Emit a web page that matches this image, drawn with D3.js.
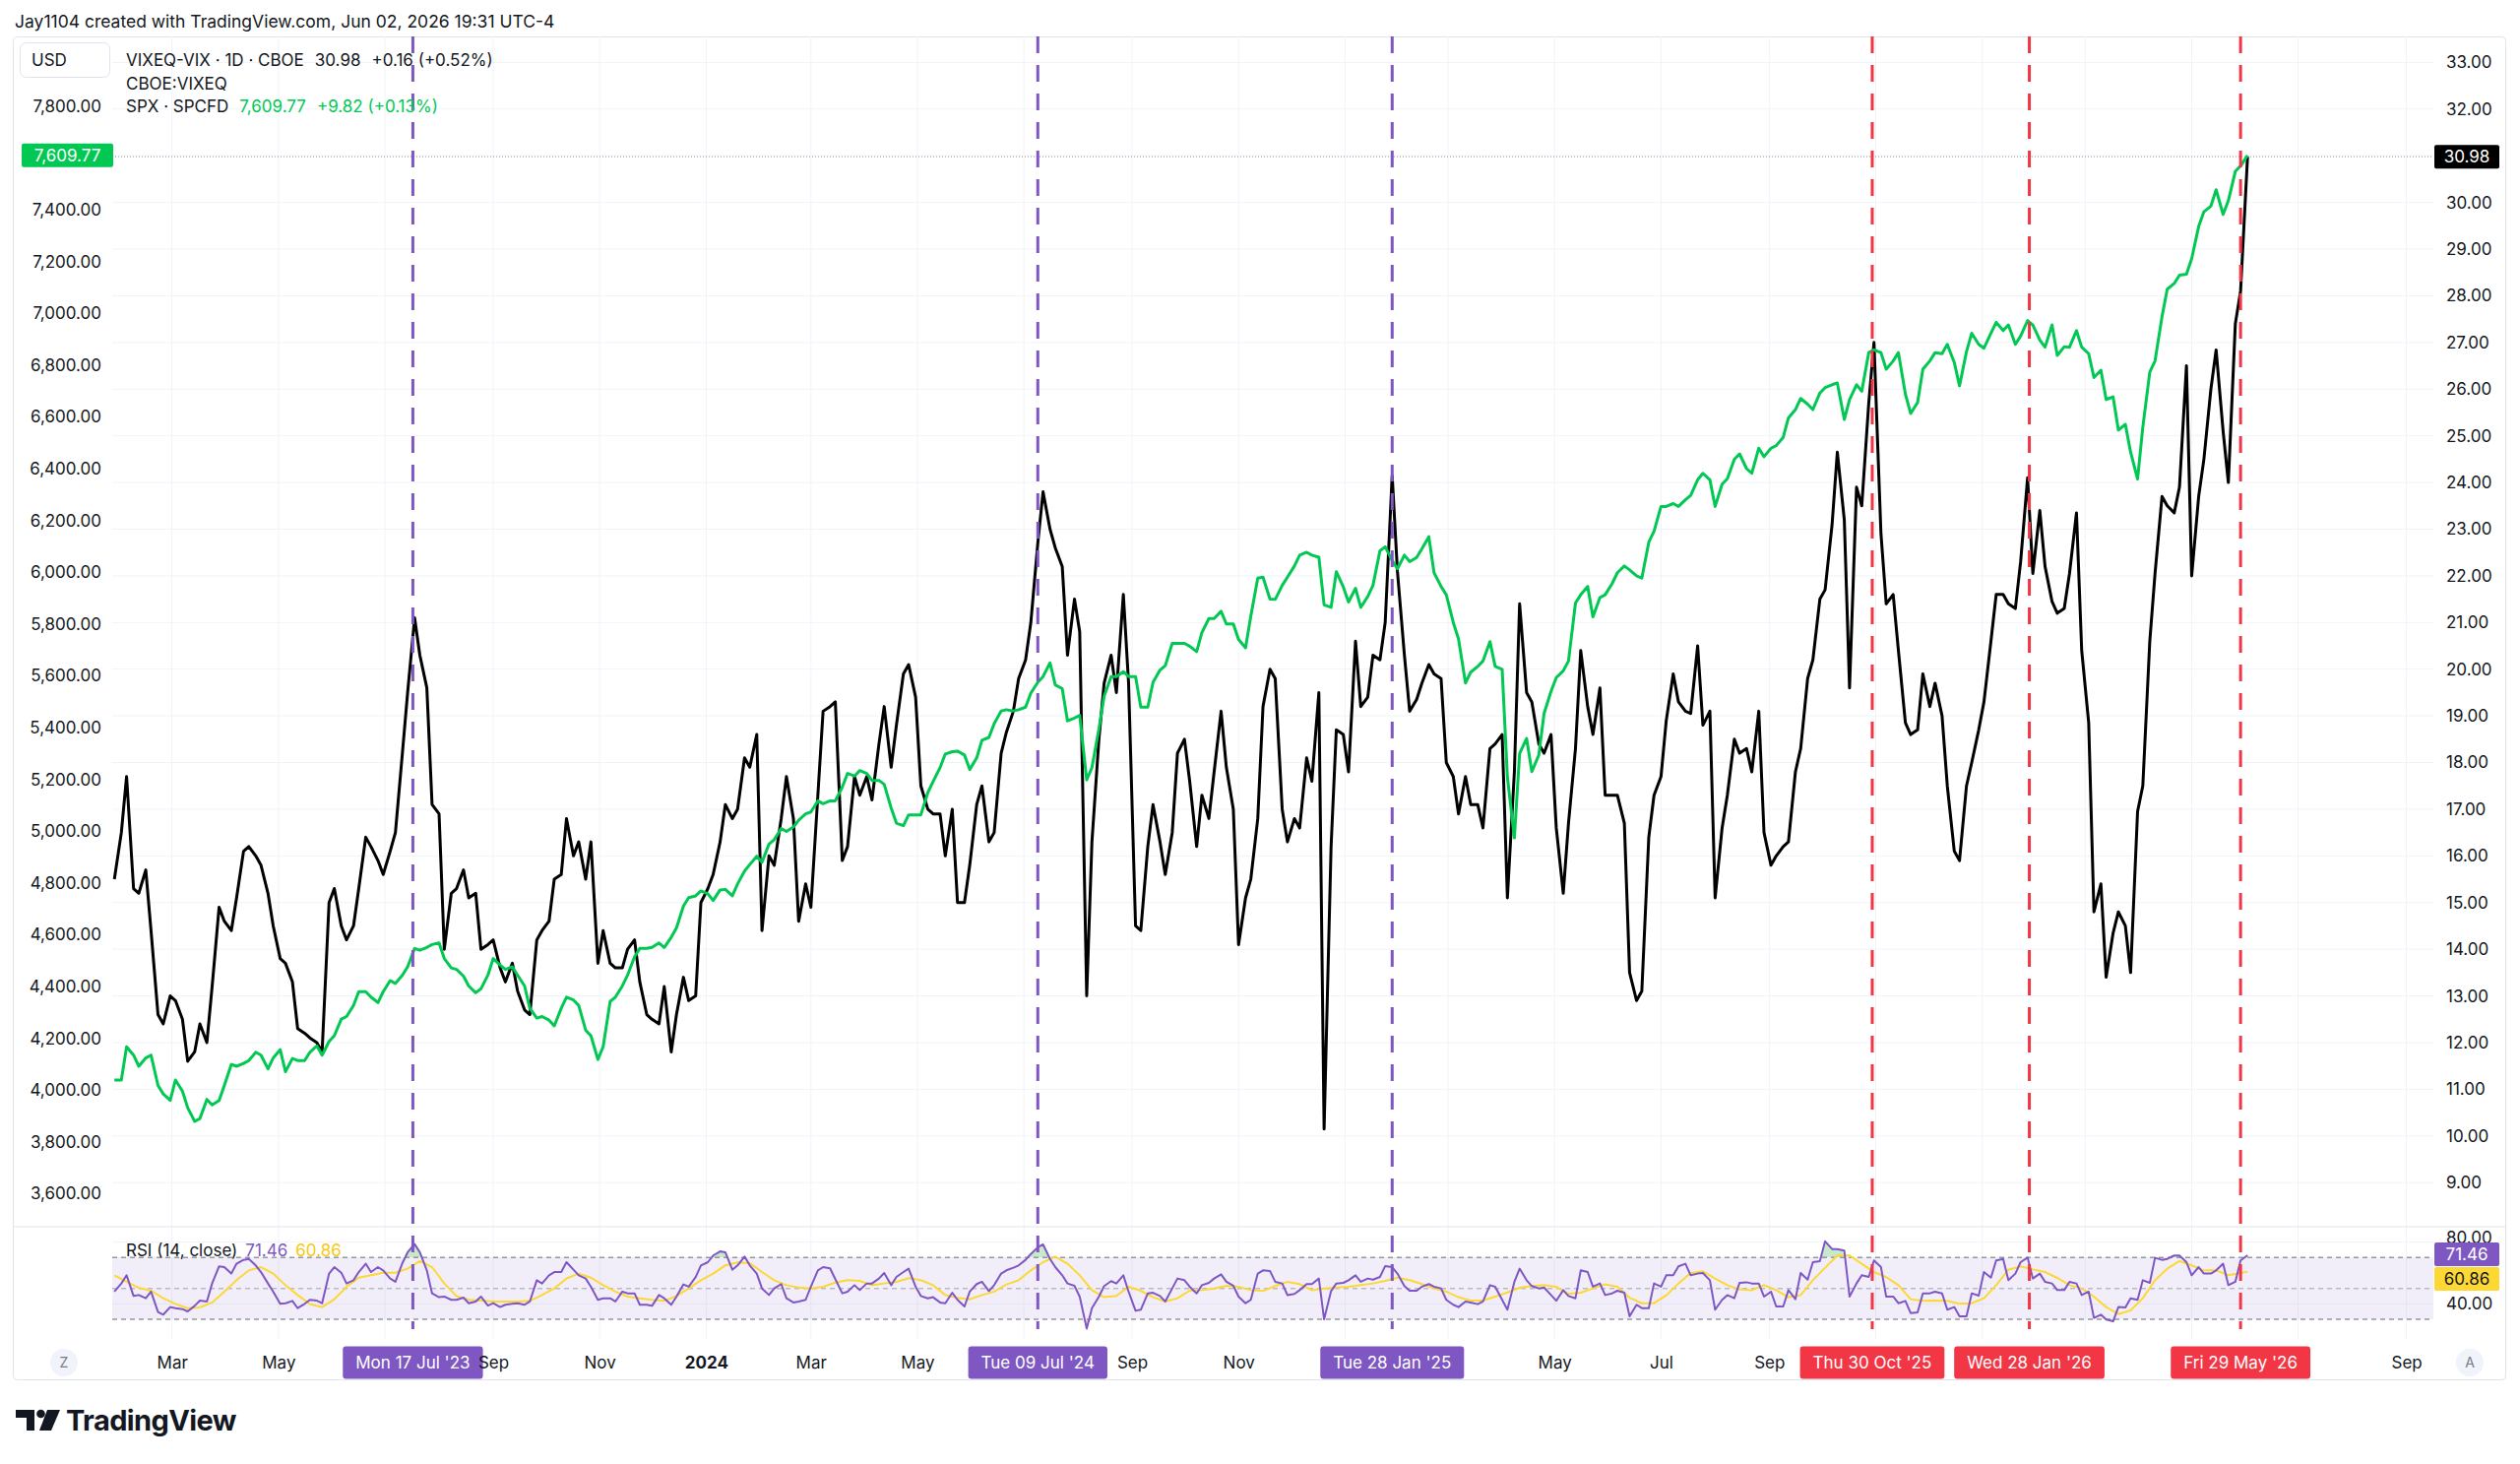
<!DOCTYPE html>
<html>
<head>
<meta charset="utf-8">
<script src="https://cdn.jsdelivr.net/npm/d3@7"></script>
<style>
  html, body { margin: 0; padding: 0; background: #fff; }
  svg { display: block; font-family: Inter, "Noto Sans", sans-serif; }
</style>
</head>
<body>
<svg id="chart"></svg>
<script>
// readings: Friday closes from 2023-01-27 plus the Tuesday after each Friday
const weekStart = '2023-01-27';
const lastDate = '2026-06-02';

// VIXEQ - VIX spread (right scale)
const spreadFriday = [
  15.5, 17.7, 15.2, 14.4, 12.4, 12.9, 11.6, 12.4, 13.2, 14.6,
  15.1, 16.2, 15.8, 14.5, 13.7, 12.3, 12.1, 11.8, 15.3, 14.2,
  15.3, 16.2, 15.6, 16.5, 19.5, 20.3, 17.1, 14.0, 15.3, 15.1,
  14.0, 14.2, 13.3, 13.1, 12.6, 14.4, 15.5, 16.8, 16.3, 16.3,
  14.4, 13.6, 14.0, 13.3, 12.5, 13.2, 12.6, 12.9, 15.0, 15.6,
  17.1, 17.0, 17.9, 14.4, 15.8, 17.7, 14.6, 14.9, 19.1, 19.3,
  16.2, 17.3, 17.2, 19.2, 18.8, 20.1, 17.5, 16.9, 16.0, 15.0,
  15.8, 17.5, 16.5, 18.65, 19.8, 21.0, 23.8, 22.6, 20.3, 20.8,
  16.3, 19.7, 19.5, 19.7, 14.4, 17.1, 15.6, 18.2, 17.6, 17.3,
  17.8, 17.9, 14.1, 15.5, 19.2, 19.8, 16.3, 16.6, 17.6, 10.15,
  18.7, 17.8, 19.2, 20.3, 21.0, 22.1, 19.1, 19.7, 19.9, 18.0,
  16.9, 17.1, 16.6, 18.4, 15.1, 21.4, 19.3, 18.2, 16.6, 16.7,
  20.4, 18.6, 17.3, 17.3, 13.5, 13.1, 17.3, 18.9, 19.3, 19.05,
  18.8, 15.1, 17.3, 18.2, 17.8, 16.5, 16.0, 16.3, 18.3, 20.2,
  21.7, 24.65, 19.6, 23.5, 27.0, 21.4, 20.4, 18.6, 19.9, 19.7,
  17.5, 15.9, 18.0, 19.3, 21.6, 21.4, 22.3, 22.05, 22.2, 21.2,
  22.05, 20.4, 14.8, 13.4, 14.8, 13.5, 17.5, 22.05, 23.5, 23.9,
  22.0, 24.5, 26.84, 24.0, 28.1
];
const spreadTuesday = [
  16.5, 15.3, 15.7, 12.6, 13.0, 12.5, 11.8, 12.0, 14.9, 14.4,
  16.1, 16.0, 15.2, 13.8, 13.3, 12.2, 12.0, 15.0, 14.5, 14.5,
  16.4, 15.9, 16.1, 18.2, 21.1, 19.6, 16.9, 15.2, 15.7, 15.2,
  14.1, 13.6, 13.7, 12.7, 14.2, 14.6, 15.6, 16.0, 15.5, 13.7,
  13.7, 13.6, 14.2, 12.6, 12.4, 11.8, 13.4, 13.0, 15.3, 16.3,
  16.8, 18.1, 18.6, 16.0, 16.8, 16.8, 15.4, 17.3, 19.2, 15.9,
  17.7, 17.7, 18.4, 17.9, 19.9, 19.4, 17.0, 16.9, 17.0, 15.0,
  17.1, 16.3, 18.2, 19.1, 20.2, 22.7, 23.0, 22.2, 21.5, 13.0,
  18.5, 20.3, 21.6, 14.5, 16.2, 16.3, 16.5, 18.5, 16.2, 16.8,
  19.1, 17.0, 15.1, 16.8, 20.0, 17.0, 16.8, 18.1, 19.5, 16.2,
  18.6, 20.6, 19.4, 20.2, 24.15, 20.3, 19.35, 20.1, 19.8, 17.7,
  17.7, 17.1, 18.3, 18.6, 17.8, 19.5, 18.4, 18.6, 15.2, 18.3,
  19.2, 19.6, 17.3, 16.7, 12.9, 16.4, 17.7, 19.9, 19.1, 20.5,
  19.1, 16.6, 18.5, 18.3, 19.1, 15.8, 16.2, 17.8, 19.8, 21.5,
  23.1, 23.2, 23.9, 25.7, 22.9, 21.6, 18.85, 18.7, 19.2, 19.0,
  16.1, 17.5, 18.7, 20.6, 21.6, 21.3, 24.1, 23.4, 21.45, 21.3,
  23.35, 18.85, 15.4, 14.35, 14.5, 16.95, 20.6, 23.7, 23.35, 26.5,
  23.7, 26.0, 25.1, 27.4
];
const spreadLast = 30.98;

// SPX (left scale)
const spxFriday = [
  4039, 4167, 4092, 4135, 3985, 4039, 3932, 3890, 3943, 4018,
  4092, 4114, 4135, 4124, 4071, 4114, 4146, 4135, 4210, 4284,
  4380, 4359, 4380, 4412, 4476, 4540, 4562, 4508, 4466, 4402,
  4391, 4508, 4466, 4444, 4316, 4284, 4248, 4359, 4327, 4210,
  4167, 4359, 4444, 4547, 4551, 4551, 4626, 4743, 4769, 4732,
  4775, 4796, 4871, 4880, 4967, 4999, 5042, 5074, 5106, 5117,
  5223, 5234, 5196, 5181, 5031, 5063, 5063, 5191, 5298, 5309,
  5238, 5351, 5415, 5469, 5469, 5533, 5597, 5565, 5426, 5447,
  5245, 5522, 5597, 5597, 5479, 5575, 5639, 5725, 5714, 5767,
  5821, 5800, 5740, 5830, 5981, 5895, 5981, 6066, 6066, 5874,
  6002, 5885, 5864, 5949, 6098, 6013, 6041, 6090, 5998, 5913,
  5742, 5614, 5657, 5636, 5209, 5300, 5230, 5454, 5593, 5657,
  5913, 5828, 5913, 5998, 6009, 5977, 6158, 6254, 6254, 6297,
  6382, 6254, 6361, 6457, 6382, 6446, 6489, 6596, 6671, 6628,
  6713, 6731, 6667, 6699, 6859, 6784, 6848, 6613, 6784, 6848,
  6880, 6720, 6923, 6865, 6965, 6955, 6912, 6955, 6869, 6837,
  6869, 6869, 6752, 6667, 6549, 6464, 6560, 6816, 7093, 7147,
  7211, 7392, 7477, 7435, 7569
];
const spxTuesday = [
  4039, 4135, 4124, 4018, 3960, 3996, 3879, 3964, 3960, 4099,
  4103, 4146, 4082, 4156, 4122, 4114, 4171, 4188, 4274, 4327,
  4380, 4338, 4423, 4444, 4547, 4551, 4568, 4472, 4440, 4376,
  4444, 4483, 4476, 4402, 4278, 4270, 4316, 4348, 4231, 4118,
  4342, 4402, 4515, 4547, 4568, 4590, 4711, 4750, 4758, 4773,
  4750, 4846, 4903, 4950, 5010, 5016, 5067, 5117, 5117, 5170,
  5213, 5223, 5196, 5089, 5021, 5063, 5149, 5245, 5307, 5294,
  5283, 5362, 5464, 5464, 5479, 5575, 5650, 5550, 5437, 5198,
  5394, 5597, 5616, 5597, 5479, 5622, 5725, 5725, 5693, 5821,
  5849, 5800, 5708, 5977, 5896, 5949, 6024, 6077, 6058, 5864,
  5943, 5938, 5906, 6083, 6045, 6066, 6057, 6137, 5945, 5806,
  5572, 5636, 5732, 5625, 4974, 5358, 5294, 5540, 5619, 5881,
  5945, 5902, 5956, 6024, 5986, 6116, 6254, 6265, 6280, 6357,
  6357, 6340, 6436, 6400, 6479, 6479, 6521, 6628, 6649, 6692,
  6724, 6590, 6724, 6848, 6848, 6816, 6688, 6656, 6816, 6844,
  6810, 6852, 6880, 6923, 6933, 6880, 6972, 6897, 6955, 6871,
  6933, 6844, 6780, 6677, 6571, 6360, 6773, 6987, 7115, 7151,
  7335, 7414, 7382, 7548
];
const spxLast = 7609.77;

// RSI(14) of the spread
const rsiFriday = [
  47.9, 58.5, 45.7, 47.9, 33.0, 37.2, 35.1, 42.1, 53.2, 63.8,
  66.0, 69.1, 60.6, 47.9, 40.4, 37.2, 42.6, 40.4, 63.8, 53.2,
  60.6, 60.6, 61.7, 54.3, 73.4, 73.4, 46.8, 44.7, 42.6, 40.4,
  44.7, 40.4, 39.4, 40.4, 41.5, 53.2, 60.6, 67.0, 58.5, 51.1,
  43.6, 41.5, 46.8, 39.4, 38.7, 43.6, 44.7, 51.1, 64.9, 71.3,
  73.4, 64.9, 64.9, 50.0, 50.0, 43.6, 41.5, 51.1, 63.8, 56.0,
  47.9, 48.9, 53.2, 60.0, 57.4, 62.8, 45.1, 44.3, 40.4, 42.6,
  47.9, 54.3, 52.1, 61.7, 64.9, 72.3, 78.5, 63.8, 53.2, 44.7,
  37.2, 51.5, 53.2, 47.9, 36.2, 47.2, 41.5, 56.4, 51.1, 52.1,
  56.4, 54.3, 44.7, 42.6, 61.7, 54.3, 45.7, 48.9, 52.8, 30.0,
  53.2, 55.3, 54.3, 55.7, 64.5, 59.6, 48.5, 51.1, 51.1, 42.6,
  37.9, 40.9, 41.5, 51.1, 36.2, 62.8, 51.5, 50.6, 42.0, 45.1,
  61.7, 51.1, 45.7, 48.5, 31.9, 37.2, 53.2, 58.5, 64.3, 58.5,
  60.0, 36.2, 45.7, 53.6, 53.2, 44.7, 38.3, 48.9, 60.0, 67.0,
  80.5, 75.5, 44.7, 58.5, 68.1, 44.7, 40.4, 34.0, 46.8, 47.9,
  36.2, 31.9, 46.8, 60.6, 68.1, 55.3, 67.0, 56.4, 54.3, 48.9,
  54.3, 45.7, 30.9, 29.8, 37.9, 43.6, 55.3, 69.8, 69.1, 71.3,
  58.5, 59.6, 61.7, 52.1, 68.1
];
const rsiTuesday = [
  53.2, 45.1, 43.6, 34.7, 37.9, 36.6, 38.7, 41.5, 64.3, 59.6,
  68.5, 64.9, 53.2, 40.0, 41.9, 40.0, 42.1, 59.6, 60.2, 55.3,
  66.0, 63.8, 56.4, 66.4, 78.7, 61.7, 44.3, 42.6, 44.0, 41.5,
  38.9, 37.9, 40.0, 39.4, 55.3, 58.5, 60.6, 62.1, 56.4, 42.6,
  43.6, 47.9, 46.8, 39.4, 45.7, 39.4, 52.6, 57.4, 67.0, 74.0,
  62.1, 70.6, 59.6, 45.7, 52.8, 40.9, 42.6, 61.7, 63.0, 46.8,
  52.1, 53.2, 56.4, 52.1, 60.6, 51.1, 43.6, 40.9, 47.2, 38.3,
  52.8, 48.3, 59.6, 63.4, 68.5, 76.6, 69.1, 58.5, 51.7, 24.0,
  44.7, 54.7, 58.5, 35.5, 46.8, 45.1, 50.0, 55.3, 46.8, 53.6,
  59.1, 51.7, 40.4, 59.6, 61.3, 53.2, 46.4, 52.8, 56.4, 48.3,
  53.6, 58.5, 56.4, 57.4, 63.8, 51.5, 48.5, 52.8, 50.0, 39.4,
  41.5, 39.8, 52.1, 42.6, 54.3, 55.3, 50.0, 45.7, 48.9, 43.6,
  60.6, 53.2, 46.8, 47.2, 39.4, 37.2, 51.1, 58.5, 66.0, 59.6,
  55.3, 42.6, 43.6, 54.0, 53.2, 47.9, 38.3, 43.0, 55.7, 67.7,
  75.5, 74.5, 53.2, 57.4, 63.8, 44.7, 41.9, 34.5, 46.8, 46.8,
  37.9, 31.9, 45.3, 57.0, 69.1, 59.6, 70.0, 59.6, 53.2, 48.9,
  53.2, 47.9, 33.0, 28.7, 37.7, 42.6, 53.6, 68.5, 71.3, 67.0,
  63.8, 59.6, 66.0, 54.3
];
const rsiLast = 71.46;

// RSI-based moving average (smooth, Fridays only)
const rsiMaFriday = [
  58.5, 54.3, 50.4, 48.5, 43.6, 40.0, 37.2, 37.7, 40.9, 47.9,
  55.3, 61.7, 63.8, 59.6, 52.1, 45.7, 39.8, 37.9, 43.0, 51.1,
  57.0, 58.5, 60.2, 60.2, 62.8, 67.7, 63.8, 53.2, 45.1, 42.6,
  42.1, 41.5, 41.5, 41.5, 41.9, 45.7, 50.0, 56.4, 59.6, 57.0,
  52.1, 47.9, 44.7, 43.6, 42.6, 41.9, 45.1, 50.0, 55.3, 59.6,
  64.9, 66.8, 66.4, 60.6, 55.3, 52.1, 50.6, 50.0, 51.1, 53.8,
  55.3, 54.9, 52.1, 53.2, 54.3, 56.6, 55.3, 52.1, 45.7, 43.8,
  43.0, 45.7, 47.9, 52.6, 55.3, 61.7, 67.0, 70.6, 66.0, 58.5,
  48.9, 44.3, 45.1, 51.1, 48.5, 44.3, 41.5, 43.6, 48.5, 48.9,
  50.0, 51.7, 51.1, 48.9, 48.3, 51.5, 54.3, 52.8, 48.9, 50.0,
  50.6, 51.1, 52.1, 53.2, 54.9, 57.0, 55.3, 52.8, 50.0, 47.9,
  44.3, 42.1, 42.1, 44.7, 47.4, 50.4, 51.5, 52.1, 51.0, 46.4,
  47.2, 50.0, 52.6, 51.1, 44.0, 40.4, 40.4, 45.5, 53.2, 60.0,
  61.1, 56.4, 52.1, 49.4, 48.9, 52.1, 48.9, 44.3, 45.7, 55.3,
  63.4, 71.3, 71.3, 66.0, 60.6, 57.4, 52.1, 43.0, 41.9, 42.1,
  41.9, 40.0, 40.4, 43.6, 52.1, 62.1, 64.3, 62.3, 60.6, 56.8,
  52.1, 50.0, 44.7, 37.9, 33.4, 35.7, 43.6, 55.3, 62.8, 67.7,
  64.9, 61.7, 61.7, 58.5, 60.0
];
const rsiMaLast = 60.86;

// axis ticks
const spxTicks = [3600, 3800, 4000, 4200, 4400, 4600, 4800, 5000, 5200, 5400, 5600, 5800,
  6000, 6200, 6400, 6600, 6800, 7000, 7200, 7400, 7600, 7800];
const vixTicks = [9, 10, 11, 12, 13, 14, 15, 16, 17, 18, 19, 20, 21, 22, 23, 24, 25, 26, 27,
  28, 29, 30, 31, 32, 33];
const rsiTicks = [40, 80];
const rsiLevels = [70, 50, 30];

// vertical markers
const markerDates = ['2023-07-17', '2024-07-09', '2025-01-28', '2025-10-30', '2026-01-28', '2026-05-29'];
const markerKinds = ['past', 'past', 'past', 'recent', 'recent', 'recent'];

// texts
const headerText = 'Jay1104 created with TradingView.com, Jun 02, 2026 19:31 UTC-4';
const vixTitle = 'VIXEQ-VIX · 1D · CBOE';
const vixChange = '+0.16 (+0.52%)';
const vixSymbol = 'CBOE:VIXEQ';
const spxTitle = 'SPX · SPCFD';
const spxChange = '+9.82 (+0.13%)';

// ---- styles / layout
const width = 2560;
const height = 1487;
const plot = { left: 114, right: 2472, top: 37, mainBottom: 1246, rsiBottom: 1355 };
const colors = {
  text: '#131722', grid: '#f0f3fa', border: '#e0e3eb',
  spread: '#000000', spx: '#00c853', rsi: '#7e57c2', rsiMa: '#fdd835',
  past: '#7e57c2', recent: '#f23645'
};
const fontSize = 17;

const parse = d3.timeParse('%Y-%m-%d');
const fridays = spreadFriday.map((_, i) => d3.timeDay.offset(parse(weekStart), 7 * i));

function buildSeries(friday, tuesday, last) {
  const pts = [];
  friday.forEach((v, i) => {
    pts.push({ date: fridays[i], value: v });
    if (i < tuesday.length) pts.push({ date: d3.timeDay.offset(fridays[i], 4), value: tuesday[i] });
  });
  pts.push({ date: parse(lastDate), value: last });
  return pts;
}

const spreadData = buildSeries(spreadFriday, spreadTuesday, spreadLast);
const spxData = buildSeries(spxFriday, spxTuesday, spxLast);
const rsiData = buildSeries(rsiFriday, rsiTuesday, rsiLast);
const rsiMaData = buildSeries(rsiMaFriday, [], rsiMaLast);

// scales
const xScale = d3.scaleTime()
  .domain([parse('2023-03-01'), parse('2026-09-01')])
  .range([174.7, 2444.6]);
const yVix = d3.scaleLinear().domain([9, 33]).range([1201.2, 63.4]);
const ySpx = d3.scaleLinear().domain([3600, 7800]).range([1212.4, 107.8]);
const yRsi = d3.scaleLinear().domain([30, 70]).range([1340, 1277.3]);

const svg = d3.select('#chart')
  .attr('width', width)
  .attr('height', height)
  .attr('font-size', fontSize)
  .attr('fill', colors.text);

const defs = svg.append('defs');
defs.append('clipPath').attr('id', 'clip-main')
  .append('rect')
  .attr('x', plot.left).attr('y', plot.top)
  .attr('width', plot.right - plot.left).attr('height', plot.mainBottom - plot.top);
defs.append('clipPath').attr('id', 'clip-over')
  .append('rect')
  .attr('x', plot.left).attr('y', plot.mainBottom)
  .attr('width', plot.right - plot.left).attr('height', yRsi(70) - plot.mainBottom);
defs.append('clipPath').attr('id', 'clip-under')
  .append('rect')
  .attr('x', plot.left).attr('y', yRsi(30))
  .attr('width', plot.right - plot.left).attr('height', plot.rsiBottom - yRsi(30));

// header
svg.append('text')
  .attr('x', 15).attr('y', 22).attr('dy', '0.35em')
  .attr('font-size', 17.5)
  .text(headerText);

// frame
svg.append('rect')
  .attr('x', 13.5).attr('y', 37.5)
  .attr('width', 2532).attr('height', 1364)
  .attr('rx', 4)
  .attr('fill', 'none')
  .attr('stroke', colors.border);

// grid
const monthTicks = d3.timeMonth.every(2).range(parse('2023-03-01'), parse('2026-09-02'));
svg.append('g')
  .selectAll('line')
  .data(monthTicks)
  .join('line')
  .attr('x1', d => xScale(d)).attr('x2', d => xScale(d))
  .attr('y1', plot.top).attr('y2', plot.rsiBottom + 6)
  .attr('stroke', colors.grid);

svg.append('g')
  .selectAll('line')
  .data(vixTicks)
  .join('line')
  .attr('x1', plot.left).attr('x2', plot.right)
  .attr('y1', d => yVix(d)).attr('y2', d => yVix(d))
  .attr('stroke', colors.grid);

svg.append('g')
  .selectAll('line')
  .data(rsiTicks)
  .join('line')
  .attr('x1', plot.left).attr('x2', plot.right)
  .attr('y1', d => yRsi(d)).attr('y2', d => yRsi(d))
  .attr('stroke', colors.grid);

// pane separator
svg.append('line')
  .attr('x1', 14).attr('x2', 2545)
  .attr('y1', plot.mainBottom).attr('y2', plot.mainBottom)
  .attr('stroke', colors.border);

// RSI band + level lines
svg.append('rect')
  .attr('x', plot.left).attr('y', yRsi(70))
  .attr('width', plot.right - plot.left).attr('height', yRsi(30) - yRsi(70))
  .attr('fill', colors.rsi).attr('fill-opacity', 0.1);

svg.append('g')
  .selectAll('line')
  .data(rsiLevels)
  .join('line')
  .attr('x1', plot.left).attr('x2', plot.right)
  .attr('y1', d => yRsi(d)).attr('y2', d => yRsi(d))
  .attr('stroke', '#9598a1')
  .attr('stroke-width', 1.5)
  .attr('stroke-dasharray', '5,4')
  .attr('stroke-opacity', d => d === 50 ? 0.6 : 1);

// left price axis (SPX)
const leftAxis = svg.append('g')
  .attr('transform', 'translate(103,0)')
  .call(d3.axisLeft(ySpx).tickValues(spxTicks).tickFormat(d3.format(',.2f')).tickSize(0).tickPadding(0));
leftAxis.select('.domain').remove();
leftAxis.attr('font-size', fontSize).attr('font-family', null);
leftAxis.selectAll('text').attr('fill', colors.text);

// right price axis (spread)
const rightAxis = svg.append('g')
  .attr('transform', 'translate(2485,0)')
  .call(d3.axisRight(yVix).tickValues(vixTicks).tickFormat(d3.format('.2f')).tickSize(0).tickPadding(0));
rightAxis.select('.domain').remove();
rightAxis.attr('font-size', fontSize).attr('font-family', null);
rightAxis.selectAll('text').attr('fill', colors.text);

// RSI axis
const rsiAxis = svg.append('g')
  .attr('transform', 'translate(2485,0)')
  .call(d3.axisRight(yRsi).tickValues(rsiTicks).tickFormat(d3.format('.2f')).tickSize(0).tickPadding(0));
rsiAxis.select('.domain').remove();
rsiAxis.attr('font-size', fontSize).attr('font-family', null);
rsiAxis.selectAll('text')
  .attr('fill', colors.text)
  .attr('y', d => d === 80 ? -5 : 0);

// last value line
svg.append('line')
  .attr('x1', plot.left).attr('x2', plot.right)
  .attr('y1', yVix(spreadLast)).attr('y2', yVix(spreadLast))
  .attr('stroke', '#9598a1')
  .attr('stroke-dasharray', '1,2');

// series
const lineVix = d3.line().x(d => xScale(d.date)).y(d => yVix(d.value));
const lineSpx = d3.line().x(d => xScale(d.date)).y(d => ySpx(d.value));
const lineRsi = d3.line().x(d => xScale(d.date)).y(d => yRsi(d.value));

const main = svg.append('g').attr('clip-path', 'url(#clip-main)');
main.append('path')
  .datum(spreadData)
  .attr('d', lineVix)
  .attr('fill', 'none')
  .attr('stroke', colors.spread)
  .attr('stroke-width', 3)
  .attr('stroke-linejoin', 'round');
main.append('path')
  .datum(spxData)
  .attr('d', lineSpx)
  .attr('fill', 'none')
  .attr('stroke', colors.spx)
  .attr('stroke-width', 3)
  .attr('stroke-linejoin', 'round');

// RSI fills beyond 70 / 30
const areaRsi = d3.area()
  .x(d => xScale(d.date))
  .y0(yRsi(70))
  .y1(d => yRsi(d.value));
svg.append('path')
  .datum(rsiData)
  .attr('clip-path', 'url(#clip-over)')
  .attr('d', areaRsi)
  .attr('fill', '#4caf50')
  .attr('fill-opacity', 0.3);
svg.append('path')
  .datum(rsiData)
  .attr('clip-path', 'url(#clip-under)')
  .attr('d', areaRsi.y0(yRsi(30)))
  .attr('fill', '#f23645')
  .attr('fill-opacity', 0.2);

svg.append('path')
  .datum(rsiMaData)
  .attr('d', lineRsi)
  .attr('fill', 'none')
  .attr('stroke', colors.rsiMa)
  .attr('stroke-width', 2);
svg.append('path')
  .datum(rsiData)
  .attr('d', lineRsi)
  .attr('fill', 'none')
  .attr('stroke', colors.rsi)
  .attr('stroke-width', 2)
  .attr('stroke-linejoin', 'round');

// vertical markers
const markers = markerDates.map((d, i) => ({ date: parse(d), kind: markerKinds[i] }));
svg.append('g')
  .selectAll('line')
  .data(markers)
  .join('line')
  .attr('x1', d => xScale(d.date)).attr('x2', d => xScale(d.date))
  .attr('y1', plot.top).attr('y2', 1350)
  .attr('stroke', d => colors[d.kind])
  .attr('stroke-width', 3)
  .attr('stroke-dasharray', '17,12');

// price label boxes
function priceBox(x, y, w, fill, textColor, label) {
  svg.append('rect')
    .attr('x', x).attr('y', y - 12)
    .attr('width', w).attr('height', 24)
    .attr('rx', 2)
    .attr('fill', fill);
  svg.append('text')
    .attr('x', x + w / 2).attr('y', y).attr('dy', '0.35em')
    .attr('text-anchor', 'middle')
    .attr('fill', textColor)
    .text(label);
}
priceBox(22, ySpx(spxLast), 93, colors.spx, '#fff', d3.format(',.2f')(spxLast));
priceBox(2473, yVix(spreadLast), 66, colors.spread, '#fff', d3.format('.2f')(spreadLast));
priceBox(2473, 1274, 66, colors.rsi, '#fff', d3.format('.2f')(rsiLast));
priceBox(2473, 1299, 66, colors.rsiMa, colors.text, d3.format('.2f')(rsiMaLast));

// legend
svg.append('rect')
  .attr('x', 20.5).attr('y', 43.5)
  .attr('width', 91).attr('height', 35)
  .attr('rx', 6)
  .attr('fill', '#fff')
  .attr('stroke', colors.border);
svg.append('text')
  .attr('x', 32).attr('y', 61.5).attr('dy', '0.35em')
  .text('USD');

const leg1 = svg.append('text').attr('x', 128).attr('y', 61.5).attr('dy', '0.35em');
leg1.append('tspan').text(vixTitle);
leg1.append('tspan').attr('dx', 11).text(d3.format('.2f')(spreadLast));
leg1.append('tspan').attr('dx', 11).text(vixChange);

svg.append('text').attr('x', 128).attr('y', 85).attr('dy', '0.35em').text(vixSymbol);

const leg3 = svg.append('text').attr('x', 128).attr('y', 108).attr('dy', '0.35em');
leg3.append('tspan').text(spxTitle);
leg3.append('tspan').attr('dx', 11).attr('fill', colors.spx).text(d3.format(',.2f')(spxLast));
leg3.append('tspan').attr('dx', 11).attr('fill', colors.spx).text(spxChange);

const legR = svg.append('text').attr('x', 128).attr('y', 1270).attr('dy', '0.35em');
legR.append('tspan').text('RSI (14, close)');
legR.append('tspan').attr('dx', 8).attr('fill', colors.rsi).text(d3.format('.2f')(rsiLast));
legR.append('tspan').attr('dx', 8).attr('fill', '#f9c80e').text(d3.format('.2f')(rsiMaLast));

// marker date boxes
const fmtMarker = d3.timeFormat("%a %d %b '%y");
const boxY = 1384;
const boxes = [];
markers.forEach(m => {
  const cx = xScale(m.date);
  const g = svg.append('g');
  const rect = g.append('rect');
  const t = g.append('text')
    .attr('x', cx).attr('y', boxY).attr('dy', '0.35em')
    .attr('text-anchor', 'middle')
    .attr('fill', '#fff')
    .text(fmtMarker(m.date));
  const w = t.node().getComputedTextLength() + 26;
  rect.attr('x', cx - w / 2).attr('y', boxY - 16.5)
    .attr('width', w).attr('height', 33)
    .attr('rx', 3)
    .attr('fill', colors[m.kind]);
  boxes.push([cx - w / 2, cx + w / 2]);
});

// time axis labels, hidden under marker boxes
const visibleTicks = monthTicks.filter(d => !boxes.some(b => xScale(d) >= b[0] && xScale(d) <= b[1]));
const timeAxis = svg.append('g')
  .attr('transform', `translate(0,${boxY})`)
  .call(d3.axisBottom(xScale)
    .tickValues(visibleTicks)
    .tickSize(0)
    .tickFormat(d => d.getMonth() === 0 ? d3.timeFormat('%Y')(d) : d3.timeFormat('%b')(d)));
timeAxis.select('.domain').remove();
timeAxis.attr('font-size', fontSize).attr('font-family', null);
timeAxis.selectAll('text')
  .attr('y', 0).attr('dy', '0.35em')
  .attr('fill', colors.text)
  .attr('font-weight', d => d.getMonth() === 0 ? 700 : 400);

// corner buttons
[[65, 'Z'], [2509, 'A']].forEach(([cx, label]) => {
  svg.append('circle').attr('cx', cx).attr('cy', boxY).attr('r', 14).attr('fill', '#f0f3fa');
  svg.append('text')
    .attr('x', cx).attr('y', boxY).attr('dy', '0.35em')
    .attr('text-anchor', 'middle')
    .attr('font-size', 14)
    .attr('fill', '#787b86')
    .text(label);
});

// TradingView logo
const logo = svg.append('g').attr('fill', colors.text);
logo.append('path').attr('d', 'M16,1432 H35 V1453 H27 V1440 H16 Z');
logo.append('circle').attr('cx', 41.5).attr('cy', 1436).attr('r', 4.3);
logo.append('path').attr('d', 'M48,1432 H61 L52,1453 H40 Z');
logo.append('text')
  .attr('x', 67).attr('y', 1443).attr('dy', '0.35em')
  .attr('font-size', 29)
  .attr('font-weight', 700)
  .attr('letter-spacing', -0.6)
  .text('TradingView');
</script>
</body>
</html>
